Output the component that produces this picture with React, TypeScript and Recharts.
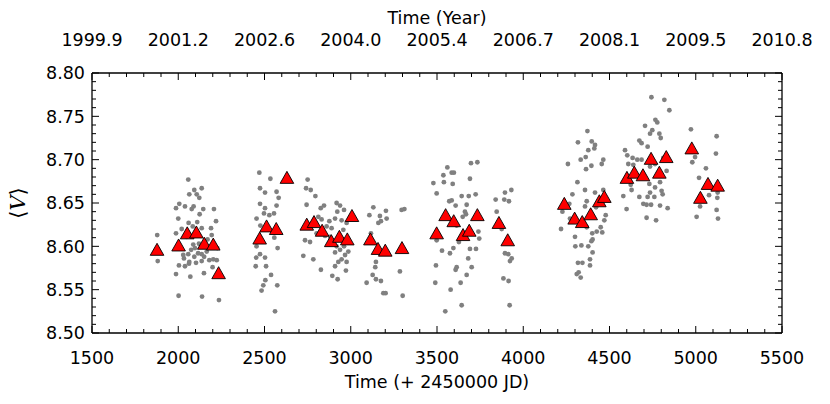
import { ScatterChart, Scatter, XAxis, YAxis } from 'recharts'

// individual observations (time in days after JD 2450000, mean V magnitude)
const dotTime = [
  1878, 1881,
  2058, 2093, 2136, 2064, 2107, 2122, 1987, 2006, 2039, 2078, 2089, 2145, 2207, 2124, 2000, 2060,
  2084, 2136, 2219, 2190, 1987, 2194, 2049, 2087, 2136, 2097, 2165, 2226, 2029, 2058, 2033, 2064,
  2093, 2136, 2180, 2203, 2223, 2004, 2039, 2062, 2103, 2136, 2199, 1987, 2070, 2149, 2002, 2138,
  2236, 2115, 2150, 2075, 2120, 2170, 2020, 2110,
  2470, 2534, 2474, 2503, 2570, 2582, 2474, 2570, 2503, 2497, 2528, 2555, 2454, 2476, 2557, 2454,
  2474, 2452, 2503, 2576, 2449, 2509, 2538, 2505, 2493, 2483, 2574, 2561,
  2750, 2741, 2768, 2795, 2744, 2845, 2826, 2918, 2938, 2961, 2922, 2812, 2831, 2876, 2909, 2947,
  2976, 2860, 2889, 2957, 2802, 2851, 2735, 2764, 2880, 2918, 2961, 2938, 2909, 2986, 2967, 2725,
  2783, 2947, 2928, 2976, 2909, 2827, 2972, 2893, 2924,
  3131, 3108, 3169, 3204, 3208, 3160, 3175, 3295, 3311, 3117, 3146, 3142, 3127, 3146, 3175, 3092,
  3285, 3189, 3202, 3301,
  3560, 3537, 3585, 3598, 3479, 3540, 3591, 3498, 3643, 3585, 3608, 3697, 3734, 3691, 3684, 3724,
  3571, 3672, 3662, 3649, 3668, 3614, 3740, 3745, 3627, 3529, 3575, 3595, 3691, 3681, 3726, 3701,
  3614, 3672, 3494, 3490, 3637, 3579, 3643, 3548, 3498, 3608,
  3840, 3894, 3931, 3890, 3917, 3846, 3875, 3894, 3913, 3933, 3923, 3885, 3915, 3921,
  4372, 4317, 4397, 4416, 4412, 4377, 4259, 4362, 4333, 4395, 4364, 4464, 4455, 4314, 4358, 4416,
  4464, 4285, 4368, 4267, 4358, 4227, 4422, 4478, 4470, 4271, 4219, 4368, 4449, 4426, 4458, 4400,
  4300, 4395, 4402, 4302, 4337, 4377, 4402, 4387, 4317, 4343, 4387, 4310, 4321, 4333,
  4743, 4818, 4847, 4706, 4766, 4777, 4748, 4735, 4789, 4797, 4673, 4686, 4721, 4590, 4603, 4634,
  4661, 4686, 4609, 4638, 4735, 4764, 4831, 4812, 4613, 4623, 4628, 4731, 4764, 4793, 4802, 4808,
  4580, 4673, 4735, 4721, 4760, 4696, 4715, 4741, 4793, 4837, 4599, 4715, 4770,
  4972, 5121, 5117, 4996, 4980, 5059, 5019, 5127, 5077, 5125, 5025, 5121, 5005, 5129,
]
const dotMag = [
  8.613, 8.583,
  8.677, 8.665, 8.667, 8.66, 8.66, 8.656, 8.644, 8.649, 8.646, 8.643, 8.646, 8.643, 8.643, 8.637, 8.632, 8.627,
  8.623, 8.621, 8.629, 8.621, 8.615, 8.613, 8.611, 8.602, 8.6, 8.598, 8.594, 8.598, 8.59, 8.591, 8.586, 8.582,
  8.588, 8.591, 8.584, 8.585, 8.584, 8.578, 8.577, 8.58, 8.581, 8.583, 8.576, 8.568, 8.565, 8.569, 8.543, 8.542,
  8.538, 8.592, 8.588, 8.596, 8.603, 8.608, 8.62, 8.628,
  8.685, 8.678, 8.667, 8.662, 8.663, 8.656, 8.649, 8.647, 8.644, 8.638, 8.636, 8.638, 8.632, 8.624, 8.61, 8.6,
  8.591, 8.587, 8.587, 8.598, 8.577, 8.577, 8.567, 8.561, 8.555, 8.549, 8.555, 8.525,
  8.677, 8.667, 8.665, 8.658, 8.648, 8.647, 8.644, 8.65, 8.647, 8.642, 8.64, 8.634, 8.631, 8.629, 8.632, 8.63,
  8.627, 8.623, 8.621, 8.619, 8.615, 8.612, 8.607, 8.605, 8.611, 8.6, 8.6, 8.596, 8.593, 8.594, 8.59, 8.589,
  8.585, 8.585, 8.582, 8.582, 8.577, 8.573, 8.572, 8.566, 8.562,
  8.645, 8.636, 8.635, 8.641, 8.632, 8.627, 8.629, 8.642, 8.643, 8.615, 8.582, 8.576, 8.567, 8.562, 8.56, 8.558,
  8.571, 8.546, 8.546, 8.543,
  8.691, 8.682, 8.685, 8.685, 8.673, 8.674, 8.672, 8.661, 8.658, 8.653, 8.647, 8.696, 8.697, 8.678, 8.658, 8.66,
  8.652, 8.648, 8.64, 8.634, 8.637, 8.624, 8.617, 8.609, 8.605, 8.595, 8.592, 8.598, 8.597, 8.586, 8.597, 8.576,
  8.576, 8.567, 8.578, 8.558, 8.558, 8.55, 8.532, 8.525, 8.607, 8.573,
  8.654, 8.662, 8.665, 8.654, 8.652, 8.64, 8.62, 8.592, 8.591, 8.586, 8.583, 8.563, 8.56, 8.532,
  8.733, 8.72, 8.721, 8.717, 8.713, 8.711, 8.695, 8.703, 8.7, 8.693, 8.689, 8.7, 8.695, 8.674, 8.665, 8.662,
  8.665, 8.66, 8.652, 8.649, 8.646, 8.64, 8.645, 8.636, 8.63, 8.632, 8.62, 8.622, 8.622, 8.617, 8.616, 8.615,
  8.611, 8.606, 8.608, 8.6, 8.601, 8.6, 8.593, 8.585, 8.581, 8.581, 8.578, 8.568, 8.57, 8.564,
  8.772, 8.769, 8.757, 8.739, 8.746, 8.743, 8.734, 8.73, 8.73, 8.725, 8.722, 8.719, 8.715, 8.711, 8.705, 8.702,
  8.7, 8.7, 8.695, 8.694, 8.692, 8.695, 8.687, 8.702, 8.678, 8.671, 8.665, 8.672, 8.668, 8.674, 8.664, 8.66,
  8.658, 8.657, 8.662, 8.657, 8.657, 8.649, 8.648, 8.648, 8.647, 8.644, 8.643, 8.633, 8.63,
  8.735, 8.727, 8.707, 8.703, 8.697, 8.69, 8.679, 8.662, 8.659, 8.656, 8.646, 8.642, 8.634, 8.632,
]

// binned means (red triangles)
const meanTime = [
  1877, 2002, 2052, 2105, 2151, 2203, 2234, 2472, 2512, 2568, 2630, 2745, 2787, 2834, 2887, 2934,
  2980, 3007, 3114, 3158, 3200, 3297, 3498, 3550, 3597, 3651, 3687, 3734, 3859, 3910, 4238, 4298,
  4342, 4391, 4441, 4470, 4601, 4644, 4694, 4741, 4789, 4829, 4977, 5027, 5071, 5127,
]
const meanMag = [
  8.596, 8.601, 8.615, 8.616, 8.603, 8.602, 8.569, 8.609, 8.623, 8.62, 8.679, 8.625, 8.628, 8.618, 8.606, 8.611,
  8.608, 8.635, 8.608, 8.597, 8.595, 8.598, 8.615, 8.636, 8.629, 8.613, 8.618, 8.636, 8.627, 8.607, 8.649, 8.632,
  8.628, 8.637, 8.652, 8.657, 8.679, 8.685, 8.682, 8.701, 8.685, 8.703, 8.713, 8.656, 8.672, 8.67,
]

const xTicks = [1500, 2000, 2500, 3000, 3500, 4000, 4500, 5000, 5500]
const yearLabels = ['1999.9', '2001.2', '2002.6', '2004.0', '2005.4', '2006.7', '2008.1', '2009.5', '2010.8']

const xMinor = Array.from({ length: 41 }, (_, i) => 1500 + i * 100)
const yMinor = Array.from({ length: 31 }, (_, i) => Math.round((8.5 + i * 0.01) * 100) / 100)

const dots = dotTime.map((x, i) => ({ x, y: dotMag[i] }))
const means = meanTime.map((x, i) => ({ x, y: meanMag[i] }))

const FONT = 'DejaVu Sans, sans-serif'
const FS = 17.5
const MAJ = 7
const MIN = 4

const isMajorX = (v: number) => v % 500 === 0
const isMajorY = (v: number) => Math.round(v * 100) % 5 === 0

const BottomTick = ({ x, y, payload }: any) => {
  const major = isMajorX(payload.value)
  return (
    <g>
      <line x1={x} x2={x} y1={y} y2={y - (major ? MAJ : MIN)} stroke="#000" strokeWidth={1} />
      {major && (
        <text x={x} y={y + 31} textAnchor="middle" fontFamily={FONT} fontSize={FS} fill="#000">
          {payload.value}
        </text>
      )}
    </g>
  )
}

const TopTick = ({ x, y, payload }: any) => {
  const major = isMajorX(payload.value)
  return (
    <g>
      <line x1={x} x2={x} y1={y} y2={y + (major ? MAJ : MIN)} stroke="#000" strokeWidth={1} />
      {major && (
        <text x={x} y={y - 27} textAnchor="middle" fontFamily={FONT} fontSize={FS} fill="#000">
          {yearLabels[xTicks.indexOf(payload.value)]}
        </text>
      )}
    </g>
  )
}

const LeftTick = ({ x, y, payload }: any) => {
  const major = isMajorY(payload.value)
  return (
    <g>
      <line x1={x} x2={x + (major ? MAJ : MIN)} y1={y} y2={y} stroke="#000" strokeWidth={1} />
      {major && (
        <text x={x - 7} y={y} dy="0.36em" textAnchor="end" fontFamily={FONT} fontSize={FS} fill="#000">
          {payload.value.toFixed(2)}
        </text>
      )}
    </g>
  )
}

const RightTick = ({ x, y, payload }: any) => {
  const major = isMajorY(payload.value)
  return <line x1={x} x2={x - (major ? MAJ : MIN)} y1={y} y2={y} stroke="#000" strokeWidth={1} />
}

const Dot = ({ cx, cy }: any) => <circle cx={cx} cy={cy} r={2.4} fill="#808080" />

const Triangle = ({ cx, cy }: any) => (
  <polygon
    points={`${cx},${cy - 6.5} ${cx - 6.8},${cy + 5.5} ${cx + 6.8},${cy + 5.5}`}
    fill="#ff0000"
    stroke="#000"
    strokeWidth={0.9}
  />
)

const bottomTitle = ({ viewBox }: any) => (
  <text x={viewBox.x + viewBox.width / 2} y={viewBox.y + 55} textAnchor="middle" fontFamily={FONT} fontSize={FS}>
    Time (+ 2450000 JD)
  </text>
)

const topTitle = ({ viewBox }: any) => (
  <text x={viewBox.x + viewBox.width / 2} y={viewBox.y + viewBox.height - 49} textAnchor="middle" fontFamily={FONT} fontSize={FS}>
    Time (Year)
  </text>
)

const leftTitle = ({ viewBox }: any) => {
  const cx = viewBox.x + viewBox.width - 67
  const cy = viewBox.y + viewBox.height / 2
  return (
    <text
      x={cx}
      y={cy}
      transform={`rotate(-90 ${cx} ${cy})`}
      textAnchor="middle"
      fontFamily="DejaVu Serif, serif"
      fontSize={21}
    >
      ⟨<tspan fontStyle="italic">V</tspan>⟩
    </text>
  )
}

const axisLine = { stroke: '#000', strokeWidth: 1.3 }

export default function App() {
  return (
    <div style={{ position: 'absolute', left: 0, top: 0, background: '#fff' }}>
      <ScatterChart width={830} height={404} margin={{ top: 72, right: 47, bottom: 70, left: 91 }}>
        <XAxis
          xAxisId="bottom"
          type="number"
          dataKey="x"
          domain={[1500, 5500]}
          ticks={xMinor}
          interval={0}
          allowDataOverflow
          height={1}
          tickSize={0}
          tickMargin={0}
          tickLine={false}
          tick={<BottomTick />}
          axisLine={axisLine}
          label={{ content: bottomTitle }}
        />
        <XAxis
          xAxisId="top"
          orientation="top"
          type="number"
          dataKey="x"
          domain={[1500, 5500]}
          ticks={xMinor}
          interval={0}
          allowDataOverflow
          height={1}
          tickSize={0}
          tickMargin={0}
          tickLine={false}
          tick={<TopTick />}
          axisLine={axisLine}
          label={{ content: topTitle }}
        />
        <YAxis
          yAxisId="left"
          type="number"
          dataKey="y"
          domain={[8.5, 8.8]}
          ticks={yMinor}
          interval={0}
          allowDataOverflow
          width={1}
          tickSize={0}
          tickMargin={0}
          tickLine={false}
          tick={<LeftTick />}
          axisLine={axisLine}
          label={{ content: leftTitle }}
        />
        <YAxis
          yAxisId="right"
          orientation="right"
          type="number"
          dataKey="y"
          domain={[8.5, 8.8]}
          ticks={yMinor}
          interval={0}
          allowDataOverflow
          width={1}
          tickSize={0}
          tickMargin={0}
          tickLine={false}
          tick={<RightTick />}
          axisLine={axisLine}
        />
        <Scatter data={dots} xAxisId="bottom" yAxisId="left" shape={<Dot />} isAnimationActive={false} />
        <Scatter data={means} xAxisId="top" yAxisId="right" shape={<Triangle />} isAnimationActive={false} />
      </ScatterChart>
    </div>
  )
}
